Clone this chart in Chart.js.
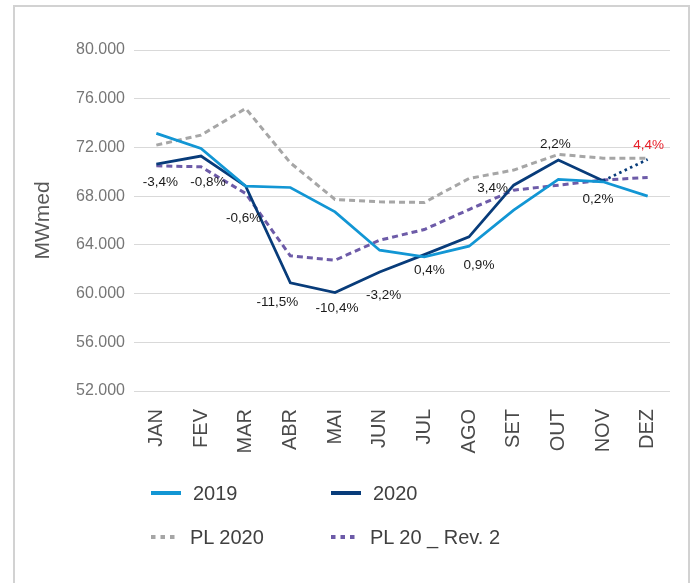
<!DOCTYPE html>
<html>
<head>
<meta charset="utf-8">
<script src="https://cdn.jsdelivr.net/npm/chart.js@4/dist/chart.umd.min.js"></script>
<style>
  html, body { margin: 0; padding: 0; background: #fff; }
  body { width: 692px; height: 583px; position: relative; overflow: hidden; font-family: "Liberation Sans", Arial, sans-serif; }
  #frame { position: absolute; left: 13px; top: 5px; width: 677px; height: 640px; box-sizing: border-box;
           border: 2px solid #d2d2d2; border-bottom: none; }
  #chart { position: absolute; left: 0; top: 0; }
  #legend { position: absolute; left: 0; top: 0; width: 692px; height: 583px; pointer-events: none; }
  .lg-item { position: absolute; display: flex; align-items: center; height: 24px; font-size: 20px; color: #404040; white-space: nowrap; }
  .lg-item svg { margin-right: 12px; }
</style>
</head>
<body>
<div id="frame"></div>
<canvas id="chart" width="692" height="471"></canvas>
<div id="legend"></div>
<script>
// ---- data ----
const months = ["JAN","FEV","MAR","ABR","MAI","JUN","JUL","AGO","SET","OUT","NOV","DEZ"];
const series2019 = [73150, 71920, 68820, 68710, 66710, 63560, 63010, 63890, 66850, 69370, 69180, 68000];
const series2020 = [70630, 71290, 68820, 60875, 60085, 61780, 63200, 64660, 68900, 70960, 69260, 71015];
const seriesPL2020 = [72190, 73010, 75200, 70740, 67730, 67530, 67480, 69450, 70140, 71430, 71120, 71120];
const seriesPLRev2 = [70490, 70410, 68220, 63100, 62740, 64380, 65260, 66900, 68490, 68900, 69320, 69540];
const pctLabels = ["-3,4%","-0,8%","-0,6%","-11,5%","-10,4%","-3,2%","0,4%","0,9%","3,4%","2,2%","0,2%","4,4%"];
const yTicks = [52000, 56000, 60000, 64000, 68000, 72000, 76000, 80000];

// ---- styling (not data) ----
const labelOffsets = [[4,18],[7,26],[-2,32],[-13,19],[2,16],[4,23],[5,16],[10,28],[-21,3],[-3,-16],[-5,18],[1,-14]];
const labelColors = pctLabels.map((_, i) => i === 11 ? "#e8202a" : "#1a1a1a");

const fmt = v => Math.round(v).toString().replace(/\B(?=(\d{3})+(?!\d))/g, ".");

const pctPlugin = {
  id: "pctLabels",
  afterDatasetsDraw(chart) {
    const meta = chart.getDatasetMeta(1);
    const ctx = chart.ctx;
    ctx.save();
    ctx.font = "13.5px 'Liberation Sans', Arial, sans-serif";
    ctx.textAlign = "center";
    ctx.textBaseline = "middle";
    meta.data.forEach((pt, i) => {
      ctx.fillStyle = labelColors[i];
      ctx.fillText(pctLabels[i], pt.x + labelOffsets[i][0], pt.y + labelOffsets[i][1]);
    });
    ctx.restore();
  }
};

const chart = new Chart(document.getElementById("chart"), {
  type: "line",
  data: {
    labels: months,
    datasets: [
      { label: "2019", data: series2019, borderColor: "#1296d4", borderWidth: 2.75, pointRadius: 0, tension: 0, legendDash: null },
      { label: "2020", data: series2020, borderColor: "#083c7a", borderWidth: 2.75, pointRadius: 0, tension: 0, legendDash: null,
        segment: { borderDash: c => c.p1DataIndex === 11 ? [2.5, 3.5] : undefined } },
      { label: "PL 2020", data: seriesPL2020, borderColor: "#a6a6a6", borderWidth: 3, borderDash: [6, 4], pointRadius: 0, tension: 0, legendDash: "4.5,5" },
      { label: "PL 20 _ Rev. 2", data: seriesPLRev2, borderColor: "#6d5ba8", borderWidth: 3, borderDash: [6, 4], pointRadius: 0, tension: 0, legendDash: "4.5,5" }
    ]
  },
  options: {
    responsive: false,
    animation: false,
    devicePixelRatio: 1,
    layout: { padding: { top: 50, right: 22, bottom: 0, left: 0 } },
    plugins: { legend: { display: false }, tooltip: { enabled: false } },
    scales: {
      x: {
        offset: true,
        grid: { display: false },
        border: { display: false },
        ticks: { minRotation: 90, maxRotation: 90, autoSkip: false, padding: 10, color: "#4a4a4a",
                 font: { family: "'Liberation Sans', Arial, sans-serif", size: 20 } },
        afterFit: s => { s.height = 80; }
      },
      y: {
        min: yTicks[0], max: yTicks[yTicks.length - 1],
        afterBuildTicks: s => { s.ticks = yTicks.map(v => ({ value: v })); },
        grid: { color: "#d9d9d9", lineWidth: 1, drawTicks: false },
        border: { display: false },
        ticks: { padding: 9, color: "#767676", callback: v => fmt(v),
                 font: { family: "'Liberation Sans', Arial, sans-serif", size: 16 } },
        title: { display: true, text: "MWmed", color: "#595959", padding: { top: 31, bottom: 0 },
                 font: { family: "'Liberation Sans', Arial, sans-serif", size: 21 } },
        afterFit: s => { s.width = 134; }
      }
    }
  },
  plugins: [pctPlugin]
});

// ---- HTML legend built from the chart's datasets ----
const legendPos = [[151, 481], [331, 481], [151, 525], [331, 525]];
const legend = document.getElementById("legend");
chart.data.datasets.forEach((ds, i) => {
  const item = document.createElement("div");
  item.className = "lg-item";
  item.style.left = legendPos[i][0] + "px";
  item.style.top = legendPos[i][1] + "px";
  const dash = ds.legendDash ? ` stroke-dasharray="${ds.legendDash}"` : "";
  const w = ds.legendDash ? 27 : 30;
  item.innerHTML = `<svg width="${w}" height="8"><line x1="0" y1="4" x2="${w}" y2="4" stroke="${ds.borderColor}" stroke-width="4"${dash}/></svg><span>${ds.label}</span>`;
  legend.appendChild(item);
});
</script>
</body>
</html>
